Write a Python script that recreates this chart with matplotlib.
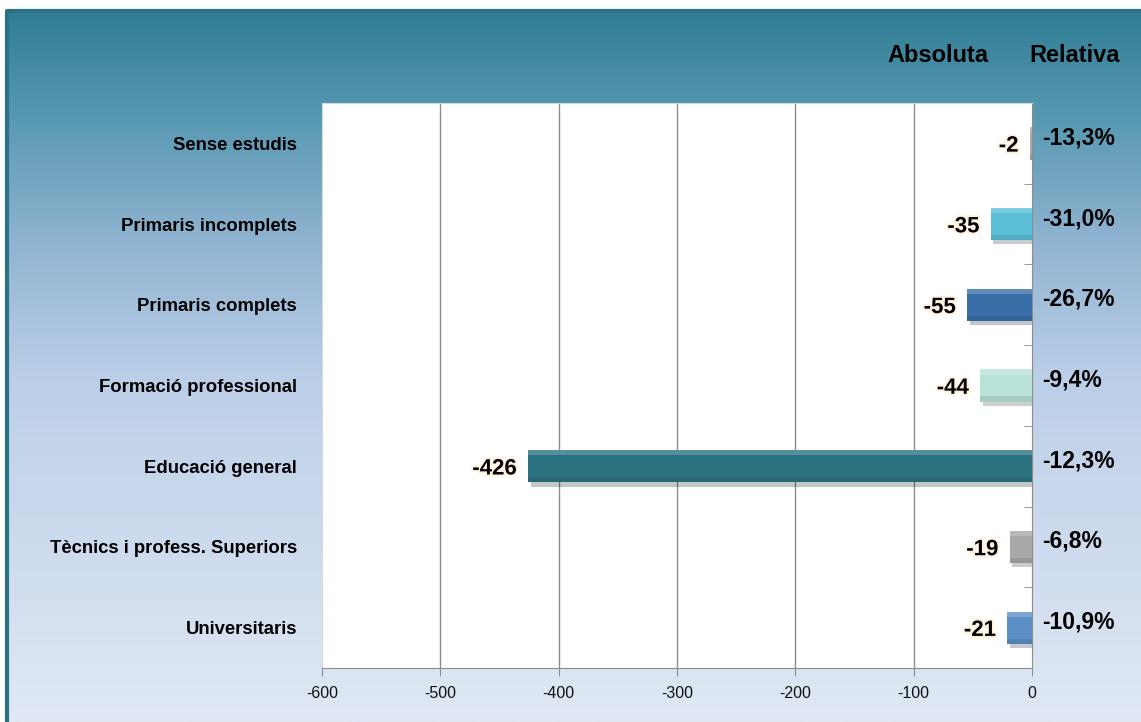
import numpy as np
import matplotlib
matplotlib.use('Agg')
import matplotlib.pyplot as plt
import matplotlib.patheffects as pe
from matplotlib.colors import LinearSegmentedColormap, to_rgb

plt.rcParams['font.family'] = ['Liberation Sans', 'DejaVu Sans']

categories = ['Sense estudis', 'Primaris incomplets', 'Primaris complets',
              'Formació professional', 'Educació general',
              'Tècnics i profess. Superiors', 'Universitaris']
absoluta = [-2, -35, -55, -44, -426, -19, -21]
relativa = ['-13,3%', '-31,0%', '-26,7%', '-9,4%', '-12,3%', '-6,8%', '-10,9%']
bar_colors = ['#a9a9a9', '#5bbfd8', '#3a6ea8', '#b8e2d8', '#2b7381', '#a8a8a8', '#5b8fc6']
xticks = [-600, -500, -400, -300, -200, -100, 0]


def mix(c, other, t):
    a = np.array(to_rgb(c))
    b = np.array(to_rgb(other))
    return tuple(a * (1 - t) + b * t)


fig = plt.figure(figsize=(11.41, 7.22), dpi=100)

# gradient panel behind everything
bg = fig.add_axes([7 / 1141, 0, 1 - 7 / 1141, (722 - 11) / 722], zorder=0)
cmap = LinearSegmentedColormap.from_list('bg', [(0, '#2f7e93'), (0.14, '#5597b0'),
                                                (0.32, '#8fb3d0'), (0.52, '#bccfe8'),
                                                (1.0, '#e0e8f4')])
grad = np.linspace(0, 1, 256).reshape(-1, 1)
bg.imshow(grad, aspect='auto', cmap=cmap, extent=[0, 1, 0, 1], origin='upper')
bg.set_xlim(0, 1)
bg.set_ylim(0, 1)
bg.axis('off')
bg.plot([0, 0, 1], [0, 1, 1], color='#2c7285', lw=3, clip_on=False)

ax = fig.add_axes([322 / 1141, 54 / 722, 710 / 1141, 565 / 722], zorder=1)
ax.set_facecolor('white')

y = np.arange(len(categories))
h = 0.4
strip = h * 0.16
bars = ax.barh(y, absoluta, height=h, color=bar_colors, edgecolor='none', zorder=3)
for b in bars:
    b.set_path_effects([pe.SimplePatchShadow(offset=(2, -3), alpha=0.25), pe.Normal()])
# bevel: lighter top strip, darker bottom strip
ax.barh(y - h / 2 + strip / 2, absoluta, height=strip,
        color=[mix(c, 'white', 0.2) for c in bar_colors], edgecolor='none', zorder=4)
ax.barh(y + h / 2 - strip / 2, absoluta, height=strip,
        color=[mix(c, 'black', 0.1) for c in bar_colors], edgecolor='none', zorder=4)

ax.set_xlim(-600, 0)
ax.set_ylim(len(categories) - 0.5, -0.5)
ax.set_xticks(xticks)
ax.set_xticklabels([str(v) for v in xticks], fontsize=11.5, color='#111111')
ax.tick_params(axis='x', direction='out', length=6, color='#8c8c8c', pad=7)
ax.vlines(xticks[1:-1], len(categories) - 0.5, -0.5, color='#8c8c8c', lw=1, zorder=1)

ax.set_yticks(y)
ax.set_yticklabels(categories, fontsize=13.3, fontweight='bold', color='#000000')
ax.tick_params(axis='y', which='major', length=0, pad=18)
ax.set_yticks(np.arange(len(categories) + 1) - 0.5, minor=True)
ax.tick_params(axis='y', which='minor', left=False, right=True, direction='in',
               length=6, color='#8c8c8c')

for s in ['top', 'left']:
    ax.spines[s].set_color('#d8d8d8')
for s in ['bottom', 'right']:
    ax.spines[s].set_color('#8c8c8c')

halo = [pe.withStroke(linewidth=3, foreground='#fff3e0')]
for yi, v, r in zip(y, absoluta, relativa):
    ax.annotate(str(v), (v, yi), xytext=(-8, -2), textcoords='offset points',
                ha='right', va='center', fontsize=16, fontweight='bold',
                color='#000000', path_effects=halo, zorder=5)
    ax.annotate(r, (0, yi), xytext=(7, 4), textcoords='offset points',
                ha='left', va='center', fontsize=16.5, fontweight='bold',
                color='#000000', annotation_clip=False, zorder=5)

fig.text(938 / 1141, 1 - 56 / 722, 'Absoluta', ha='center', va='center',
         fontsize=17, fontweight='bold', color='#000000')
fig.text(1075 / 1141, 1 - 56 / 722, 'Relativa', ha='center', va='center',
         fontsize=17, fontweight='bold', color='#000000')

fig.savefig('out.png', dpi=100, facecolor='white')
